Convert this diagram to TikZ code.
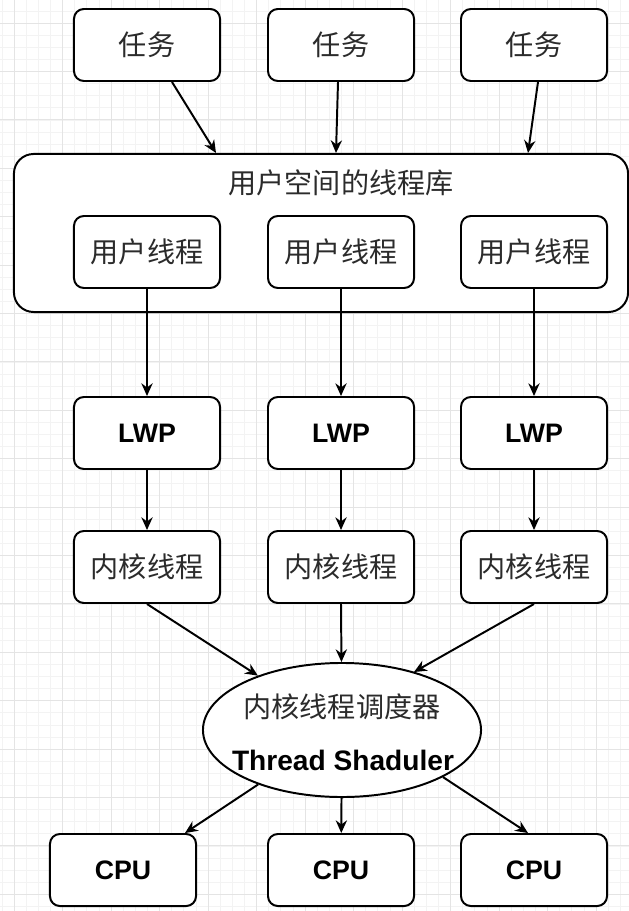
\documentclass[tikz,border=0pt]{standalone}
\usepackage{fontspec}
\newfontfamily\cjkfont{Noto Sans CJK SC}
\newfontfamily\hwfont{Liberation Sans}
\usetikzlibrary{shapes.geometric,arrows.meta,positioning,calc}
\definecolor{gridmajor}{HTML}{E4E4E4}
\definecolor{gridminor}{HTML}{F3F3F3}
\definecolor{cjktext}{HTML}{2B2B2B}

\begin{document}
\begin{tikzpicture}[x=0.025cm, y=-0.025cm,
  box/.style={draw, line width=1.4pt, rounded corners=7pt, minimum width=3.65cm, minimum height=1.8cm, align=center, fill=white, text=cjktext, font=\cjkfont\fontsize{20}{24}\selectfont},
  hwbox/.style={box, text=black, font=\hwfont\bfseries\fontsize{19}{23}\selectfont},
  label/.style={inner sep=0pt, text=cjktext, font=\cjkfont\fontsize{20}{24}\selectfont},
  link/.style={->, line width=1.4pt},
  >={Stealth[length=9pt,width=8pt]}
]
% background grid
\useasboundingbox (0,0) rectangle (629,911);
\fill[white] (0,0) rectangle (629,911);
\foreach \i in {-1,...,50} \draw[gridminor, line width=0.4pt] ({14+12.125*\i},0) -- ({14+12.125*\i},911);
\foreach \j in {-1,...,73} \draw[gridminor, line width=0.4pt] (0,{23+12.1*\j}) -- (629,{23+12.1*\j});
\foreach \i in {0,...,12} \draw[gridmajor, line width=0.6pt] ({14+48.5*\i},0) -- ({14+48.5*\i},911);
\foreach \j in {0,...,18} \draw[gridmajor, line width=0.6pt] (0,{23+48.4*\j}) -- (629,{23+48.4*\j});

% tasks
\node[box] (t1) at (147,45) {任务};
\node[box] (t2) at (341,45) {任务};
\node[box] (t3) at (534,45) {任务};

% user space thread library
\node[draw, line width=1.4pt, rounded corners=14pt, minimum width=15.35cm, minimum height=3.95cm, fill=white] (lib) at (321,233) {};
\node[label] (libt) at (341,183) {用户空间的线程库};
\node[box] (u1) at (147,252) {用户线程};
\node[box] (u2) at (341,252) {用户线程};
\node[box] (u3) at (534,252) {用户线程};

% LWP and kernel threads
\node[hwbox] (l1) at (147,433) {LWP};
\node[hwbox] (l2) at (341,433) {LWP};
\node[hwbox] (l3) at (534,433) {LWP};
\node[box] (k1) at (147,567) {内核线程};
\node[box] (k2) at (341,567) {内核线程};
\node[box] (k3) at (534,567) {内核线程};

% scheduler
\node[draw, ellipse, line width=1.4pt, minimum width=6.95cm, minimum height=3.35cm, fill=white] (sched) at (342,730) {};
\node[label] (schedcn) at (342,707) {内核线程调度器};
\node[inner sep=0pt, font=\hwfont\bfseries\fontsize{20}{24}\selectfont] (schedt) at (343,760) {Thread Shaduler};

% CPUs
\node[hwbox] (c1) at (123,870) {CPU};
\node[hwbox] (c2) at (341,870) {CPU};
\node[hwbox] (c3) at (534,870) {CPU};

\draw[link] ($(t1.south)+(25,0)$) -- ($(lib.north)+(-105,0)$);
\draw[link] ($(t2.south)+(-3,0)$) -- ($(lib.north)+(15,0)$);
\draw[link] ($(t3.south)+(4,0)$) -- ($(lib.north)+(207,0)$);
\foreach \n in {1,2,3} {
  \draw[link] (u\n) -- (l\n);
  \draw[link] (l\n) -- (k\n);
}
\draw[link] (k1.south) -- (sched);
\draw[link] (k2.south) -- (sched);
\draw[link] (k3.south) -- ($(sched.north)+(72,10)$);
\draw[link] (sched.-147) -- ($(c1.north)+(62,0)$);
\draw[link] (sched) -- (c2);
\draw[link] (sched.-25) -- ($(c3.north)+(-6,0)$);
\end{tikzpicture}
\end{document}
